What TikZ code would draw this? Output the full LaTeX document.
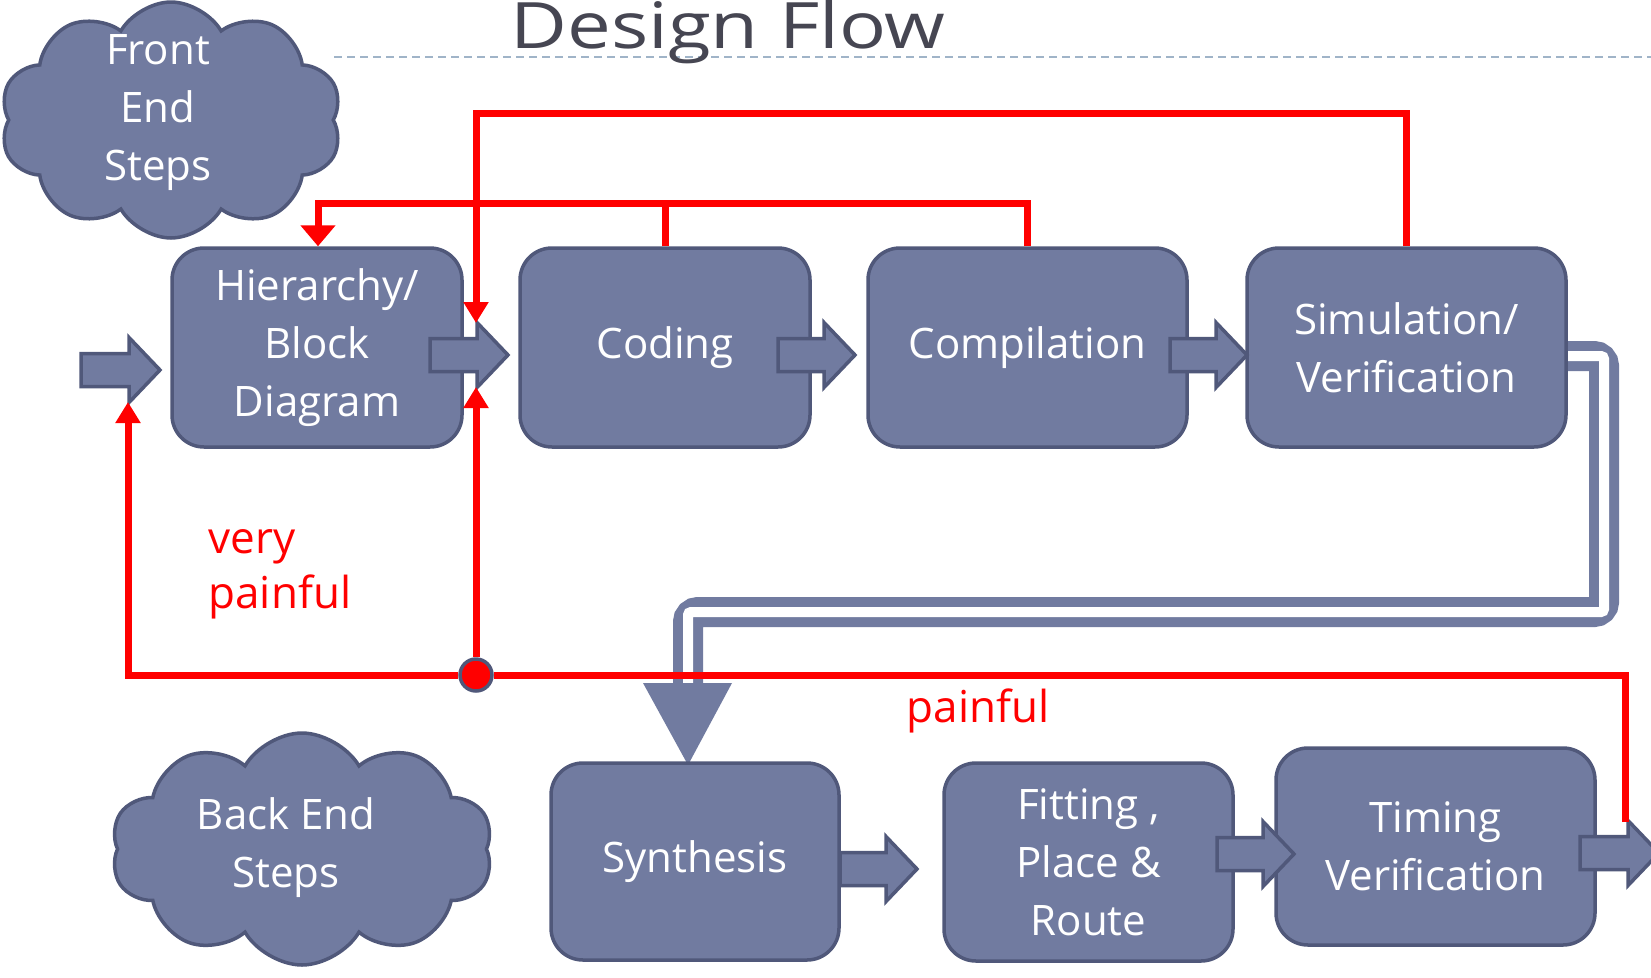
\documentclass[tikz,border=0pt]{standalone}
\usepackage{fontspec}
\setmainfont{Open Sans}
\usetikzlibrary{shapes.symbols,arrows.meta}
\definecolor{boxfill}{RGB}{113,123,160}
\definecolor{boxline}{RGB}{80,88,122}
\definecolor{dashc}{RGB}{160,180,200}
\definecolor{titlec}{RGB}{70,70,82}
\newcommand{\blockarr}[4]{%
  \filldraw[barrow] (#2,#4-16.5) -- (#3-31,#4-16.5) -- (#3-31,#4-32.5) -- (#3,#4)
    -- (#3-31,#4+32.5) -- (#3-31,#4+16.5) -- (#2,#4+16.5) -- cycle;}
\begin{document}
\begin{tikzpicture}[x=1pt,y=-1pt,
  stepbox/.style={draw=boxline, fill=boxfill, line width=3.5pt, rounded corners=32pt,
    minimum width=#1, minimum height=199pt, inner sep=0pt},
  stepbox/.default=290pt,
  boxtext/.style={text=white, align=center, font=\fontsize{42}{58}\selectfont},
  cloudbox/.style={cloud, cloud puffs=10, cloud puff arc=120, cloud ignores aspect,
    draw=boxline, fill=boxfill, line width=3.5pt, inner sep=0pt},
  barrow/.style={draw=boxline, fill=boxfill, line width=3.5pt, line join=miter},
  redline/.style={draw=red, line width=7pt},
  redarrow/.style={redline, -{Triangle[length=21pt,width=24pt]}},
  redtext/.style={text=red, font=\fontsize{44}{55}\selectfont}]
\useasboundingbox (0,0) rectangle (1651,977);
\fill[white] (0,0) rectangle (1651,977);

% title and dashed rule
\draw[dashc, line width=2pt, dash pattern=on 8pt off 5pt] (334,57) -- (1651,57);
\node[text=titlec, font=\fontsize{64}{70}\selectfont, anchor=base] (title) at (728,48)
  {\scalebox{1.22}[1]{Design Flow}};

% clouds
\node[cloudbox, minimum width=342pt, minimum height=236pt] (front) at (171,120) {};
\node[boxtext] (fronttext) at (158,113) {Front\\End\\Steps};
\node[cloudbox, minimum width=382pt, minimum height=232pt] (back) at (302,849) {};
\node[boxtext] (backtext) at (286,848) {Back End\\Steps};

% hollow bent connector Simulation -> Synthesis
\coordinate (simout) at (1540,356);
\coordinate (synin) at (688,684);
\draw[boxfill, line width=30pt, rounded corners=10pt] (simout) -- (1604,356) -- (1604,612) -- (688,612) -- (synin);
\draw[white, line width=10pt, rounded corners=3pt] (simout) -- (1604,356) -- (1604,612) -- (688,612) -- (synin);
\fill[boxfill] (643,683) -- (732,683) -- (688,765) -- cycle;

% boxes
\node[stepbox=290pt] (hier) at (317,347.5) {};
\node[boxtext] at (hier) {Hierarchy/\\Block\\Diagram};
\node[stepbox=290pt] (coding) at (665,347.5) {};
\node[boxtext] at (coding) {Coding};
\node[stepbox=319pt] (compil) at (1027.5,347.5) {};
\node[boxtext] at (compil) {Compilation};
\node[stepbox=319pt] (sim) at (1406.5,347.5) {};
\node[boxtext] at (sim) {Simulation/\\Verification};
\node[stepbox=288pt, minimum height=197pt] (synth) at (695,861.5) {};
\node[boxtext] at (synth) {Synthesis};
\node[stepbox=289pt, minimum height=198pt] (fit) at (1088.5,862) {};
\node[boxtext] at (fit) {Fitting ,\\Place \& \\Route};
\node[stepbox=319pt, minimum height=197pt] (timing) at (1435.5,846.5) {};
\node[boxtext] at (timing) {Timing\\Verification};

% block arrows
\blockarr{in}{81}{160}{370}
\blockarr{hc}{430}{508}{355}
\blockarr{cc}{778}{855}{355}
\blockarr{cs}{1170}{1247}{355}
\blockarr{sf}{840}{917}{869}
\blockarr{ft}{1217}{1294}{854}
\blockarr{to}{1580}{1659}{853}

% red feedback lines
\coordinate (topY) at (0,113);
\coordinate (midY) at (0,203);
\coordinate (hcTop) at (476,323);
\coordinate (hcBot) at (476,387);
\coordinate (inBot) at (128,402);
\coordinate (outTop) at (1625,822);
\draw[redarrow] (sim.north) -- (sim.north |- topY) -| (hcTop);
\draw[redline] (compil.north) -- (compil.north |- midY) -- (coding.north |- midY);
\draw[redline, -{Triangle[length=21pt,width=34pt]}] (coding.north) -- (coding.north |- midY) -| ([xshift=1pt]hier.north);
\node[circle, fill=red, draw=boxline, line width=3.5pt, minimum size=32pt, inner sep=0pt] (dot) at (476,675) {};
\draw[redline] (outTop) |- (dot);
\draw[redarrow] (dot) -- (hcBot);
\draw[redarrow] (dot) -| (inBot);

% red labels
\node[redtext, align=left, anchor=west] (vp) at (205,574) {very\\painful};
\node[redtext, anchor=base] (pf) at (978,722) {painful};
\end{tikzpicture}
\end{document}
